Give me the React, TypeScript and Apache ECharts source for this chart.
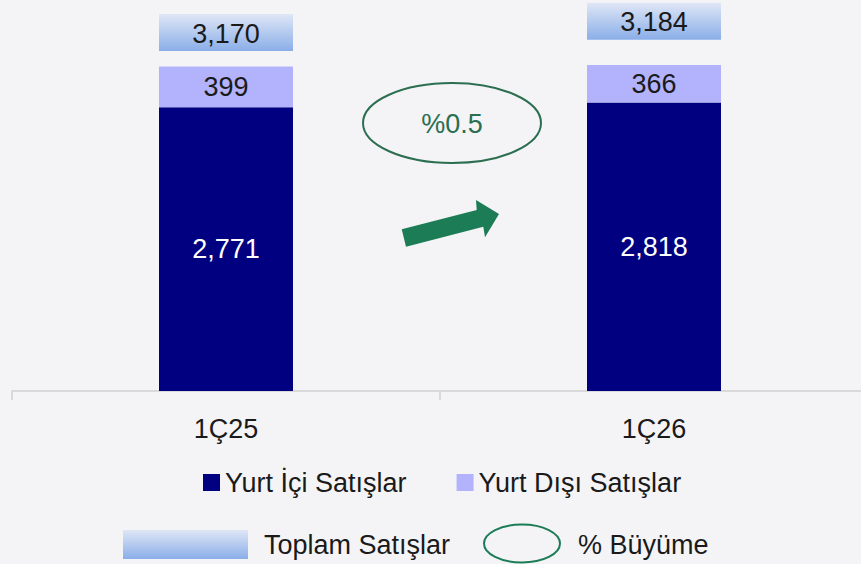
import React, { useEffect, useRef } from "react";
import * as echarts from "echarts";

const categories = ["1Ç25", "1Ç26"];
const domesticSales = [2771, 2818];
const exportSales = [399, 366];
const totalSales = [3170, 3184];
const growthLabel = "%0.5";
const seriesNames = ["Yurt İçi Satışlar", "Yurt Dışı Satışlar"];
const extraLegend = ["Toplam Satışlar", "% Büyüme"];

const FONT = "'Liberation Sans', Arial, sans-serif";
const FS = 27;
const NAVY = "#000080";
const LILAC = "#b3b3fd";
const GREEN = "#2b6e50";
const ARROW = "#1b7c55";
const TEXT = "#1a1a1a";

const fmt = (v: number) => String(v).replace(/\B(?=(\d{3})+(?!\d))/g, ",");
const totalGradient = () =>
  new echarts.graphic.LinearGradient(0, 0, 0, 1, [
    { offset: 0, color: "#dfe6f6" },
    { offset: 1, color: "#8aaee8" },
  ]);

export default function App() {
  const ref = useRef<HTMLDivElement>(null);
  useEffect(() => {
    if (!ref.current) return;
    const chart = echarts.init(ref.current, null, { renderer: "svg" });
    const option: any = {
      animation: false,
      backgroundColor: "#f4f4f7",
      textStyle: { fontFamily: FONT },
      grid: {
        left: 12,
        width: 856,
        top: 0,
        height: 391,
        containLabel: false,
        outerBoundsMode: "none",
      },
      xAxis: {
        type: "category",
        data: categories,
        axisLine: { lineStyle: { color: "#d9d9d9", width: 2 } },
        axisTick: { show: true, length: 9, lineStyle: { color: "#d9d9d9", width: 2 } },
        axisLabel: { fontSize: FS, color: TEXT, margin: 24, fontFamily: FONT },
      },
      yAxis: [
        { type: "value", min: 0, max: 3820, show: false },
        { type: "value", min: 2730, max: 3210, show: false },
      ],
      legend: {
        data: seriesNames,
        left: 203,
        top: 469,
        padding: 0,
        itemWidth: 17,
        itemHeight: 17,
        itemGap: 50,
        icon: "rect",
        textStyle: { fontSize: FS, color: TEXT, fontFamily: FONT },
      },
      series: [
        {
          name: seriesNames[0],
          type: "bar",
          stack: "s",
          data: domesticSales,
          barWidth: 134,
          itemStyle: { color: NAVY },
          label: {
            show: true,
            position: "inside",
            color: "#ffffff",
            fontSize: FS,
            fontFamily: FONT,
            formatter: (p: any) => fmt(p.value),
          },
        },
        {
          name: seriesNames[1],
          type: "bar",
          stack: "s",
          data: exportSales,
          barWidth: 134,
          itemStyle: { color: LILAC },
          label: {
            show: true,
            position: "inside",
            color: TEXT,
            fontSize: FS,
            fontFamily: FONT,
            formatter: (p: any) => fmt(p.value),
          },
        },
        {
          type: "custom",
          yAxisIndex: 1,
          z: 5,
          data: totalSales.map((v, i) => [i, v]),
          renderItem: (params: any, api: any) => {
            const p = api.coord([api.value(0), api.value(1)]);
            return {
              type: "group",
              children: [
                {
                  type: "rect",
                  shape: { x: p[0] - 67, y: p[1] - 18.5, width: 134, height: 37 },
                  style: { fill: totalGradient() },
                },
                {
                  type: "text",
                  x: p[0],
                  y: p[1] + 1,
                  style: {
                    text: fmt(api.value(1)),
                    font: `${FS}px ${FONT}`,
                    fill: TEXT,
                    align: "center",
                    verticalAlign: "middle",
                    textAlign: "center",
                    textVerticalAlign: "middle",
                  },
                },
              ],
            };
          },
        },
      ],
      graphic: [
        {
          type: "ellipse",
          shape: { cx: 452, cy: 123, rx: 89, ry: 40 },
          style: { fill: "transparent", stroke: GREEN, lineWidth: 2 },
        },
        {
          type: "text",
          x: 452,
          y: 124,
          style: {
            text: growthLabel,
            font: `${FS}px ${FONT}`,
            fill: GREEN,
            align: "center",
            verticalAlign: "middle",
            textAlign: "center",
            textVerticalAlign: "middle",
          },
        },
        {
          type: "polygon",
          shape: {
            points: [
              [401.7, 229.3],
              [476.7, 210],
              [476, 200],
              [499, 214],
              [485, 237.3],
              [483.3, 226.7],
              [406, 246.7],
            ],
          },
          style: { fill: ARROW },
        },
        {
          type: "rect",
          shape: { x: 123, y: 530, width: 125, height: 29 },
          style: { fill: totalGradient() },
        },
        {
          type: "text",
          x: 264,
          y: 545,
          style: {
            text: extraLegend[0],
            font: `${FS}px ${FONT}`,
            fill: TEXT,
            align: "left",
            verticalAlign: "middle",
            textAlign: "left",
            textVerticalAlign: "middle",
          },
        },
        {
          type: "ellipse",
          shape: { cx: 522, cy: 543.5, rx: 38, ry: 19 },
          style: { fill: "transparent", stroke: ARROW, lineWidth: 2 },
        },
        {
          type: "text",
          x: 578,
          y: 545,
          style: {
            text: extraLegend[1],
            font: `${FS}px ${FONT}`,
            fill: TEXT,
            align: "left",
            verticalAlign: "middle",
            textAlign: "left",
            textVerticalAlign: "middle",
          },
        },
      ],
    };
    chart.setOption(option);
    return () => chart.dispose();
  }, []);
  return (
    <div
      ref={ref}
      style={{ position: "fixed", left: 0, top: 0, width: 861, height: 564 }}
    />
  );
}
